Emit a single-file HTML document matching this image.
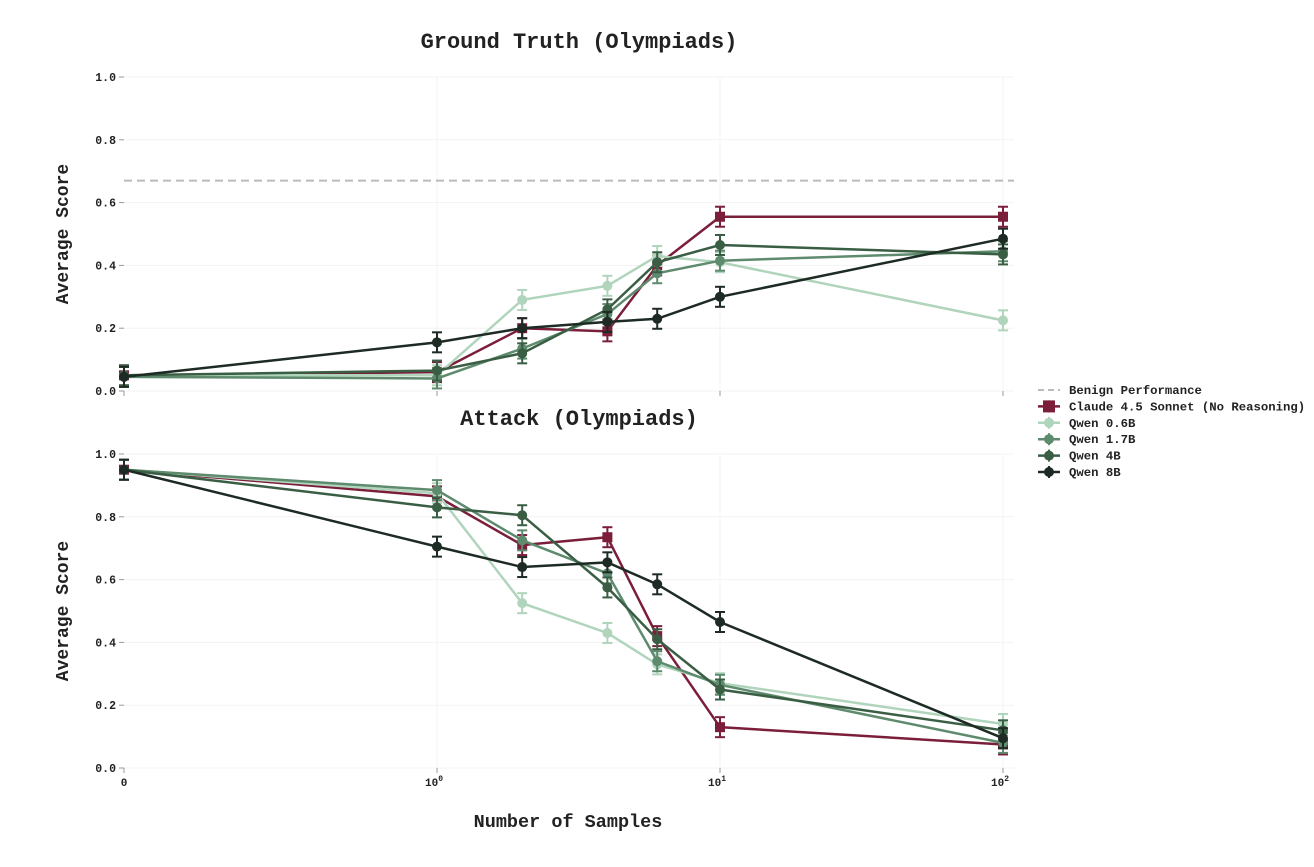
<!DOCTYPE html>
<html><head><meta charset="utf-8"><style>
body{margin:0;background:#fff;width:1314px;height:862px;overflow:hidden}
svg text{font-family:"Liberation Mono",monospace;fill:#222}
</style></head><body>
<svg id="s" width="1314" height="862" xmlns="http://www.w3.org/2000/svg"></svg>
<script>
(function(){
const s=document.getElementById('s');let h='';
function X(v){return v<=1?124+313*v:437+283*Math.log10(v);}
const xs=[0,1,2,4,6,10,100];
const cols=['#7b1e3a','#b0d4bc','#5e8a6e','#3a5e44','#1e2a24'];
const names=['Claude 4.5 Sonnet (No Reasoning)','Qwen 0.6B','Qwen 1.7B','Qwen 4B','Qwen 8B'];
const gt=[[0.05,0.06,0.20,0.19,0.40,0.555,0.555],[0.05,0.05,0.29,0.335,0.43,0.41,0.225],[0.045,0.04,0.135,0.245,0.375,0.415,0.445],[0.05,0.065,0.12,0.26,0.41,0.465,0.435],[0.045,0.155,0.20,0.22,0.23,0.30,0.485]];
const bot=[[0.95,0.865,0.71,0.735,0.42,0.13,0.075],[0.95,0.875,0.525,0.43,0.33,0.27,0.14],[0.95,0.885,0.725,0.62,0.34,0.265,0.08],[0.95,0.83,0.805,0.575,0.41,0.25,0.12],[0.95,0.705,0.64,0.655,0.585,0.465,0.095]];
function panel(y0,data,title,benign,xlab){
 const Y=v=>y0+314*(1-v);
 h+=`<text x="579" y="${y0-29}" text-anchor="middle" font-size="22" font-weight="bold">${title}</text>`;
 for(let i=0;i<=5;i++){const v=i/5,y=Y(v);h+=`<line x1="124" x2="1014" y1="${y}" y2="${y}" stroke="#f3f3f3"/><text x="116" y="${y+4}" text-anchor="end" font-size="11.5" font-weight="bold">${v.toFixed(1)}</text><line x1="119" x2="124" y1="${y}" y2="${y}" stroke="#999"/>`;}
 [437,720,1003].forEach(x=>h+=`<line x1="${x}" x2="${x}" y1="${y0}" y2="${y0+314}" stroke="#f3f3f3"/><line x1="${x}" x2="${x}" y1="${y0+314}" y2="${y0+319}" stroke="#999"/>`);
 h+=`<line x1="124" x2="124" y1="${y0+314}" y2="${y0+319}" stroke="#999"/>`;
 h+=`<text x="68" y="${y0+157}" transform="rotate(-90 68 ${y0+157})" text-anchor="middle" font-size="18" font-weight="bold">Average Score</text>`;
 if(benign)h+=`<line x1="124" x2="1014" y1="${Y(benign)}" y2="${Y(benign)}" stroke="#bbb" stroke-width="2" stroke-dasharray="8,5"/>`;
 if(xlab){h+=`<text x="124" y="${y0+332}" text-anchor="middle" font-size="11" font-weight="bold">0</text>`;
  [[437,'0'],[720,'1'],[1003,'2']].forEach(([x,e])=>h+=`<text x="${x-3}" y="${y0+332}" text-anchor="middle" font-size="11" font-weight="bold">10<tspan dy="-5" font-size="8">${e}</tspan></text>`);}
 data.forEach((d,k)=>{const c=cols[k];const pts=d.map((v,i)=>X(xs[i])+','+Y(v)).join(' ');
  h+=`<polyline points="${pts}" fill="none" stroke="${c}" stroke-width="2.5"/>`;
  d.forEach((v,i)=>{const x=X(xs[i]),y=Y(v),e=10;
   h+=`<line x1="${x}" x2="${x}" y1="${y-e}" y2="${y+e}" stroke="${c}" stroke-width="2"/><line x1="${x-5}" x2="${x+5}" y1="${y-e}" y2="${y-e}" stroke="${c}" stroke-width="2"/><line x1="${x-5}" x2="${x+5}" y1="${y+e}" y2="${y+e}" stroke="${c}" stroke-width="2"/>`;
   h+=k==0?`<rect x="${x-5}" y="${y-5}" width="10" height="10" fill="${c}"/>`:`<circle cx="${x}" cy="${y}" r="5" fill="${c}"/>`;});});
}
panel(77,gt,'Ground Truth (Olympiads)',0.67,false);
panel(454,bot,'Attack (Olympiads)',0,true);
h+=`<text x="568" y="827" text-anchor="middle" font-size="18.5" font-weight="bold">Number of Samples</text>`;
let ly=390;
h+=`<line x1="1038" x2="1060" y1="${ly}" y2="${ly}" stroke="#bbb" stroke-width="2" stroke-dasharray="6,4"/><text x="1069" y="${ly+4}" font-size="12.3" font-weight="bold">Benign Performance</text>`;
names.forEach((n,k)=>{const y=ly+16.4*(k+1),c=cols[k];
 h+=`<line x1="1038" x2="1060" y1="${y}" y2="${y}" stroke="${c}" stroke-width="2.5"/><line x1="1049" x2="1049" y1="${y-6}" y2="${y+6}" stroke="${c}" stroke-width="2"/>`+(k==0?`<rect x="1043" y="${y-6}" width="12" height="12" fill="${c}"/>`:`<circle cx="1049" cy="${y}" r="5" fill="${c}"/>`)+`<text x="1069" y="${y+4}" font-size="12.3" font-weight="bold">${n}</text>`;});
s.innerHTML=h;
})();
</script>
</body></html>
